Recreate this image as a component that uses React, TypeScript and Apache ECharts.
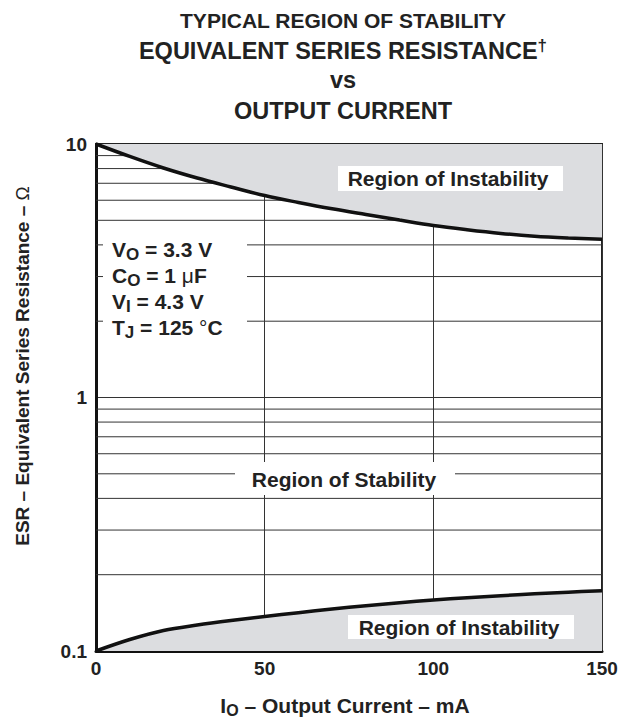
import React, { useEffect, useRef } from "react";
import * as echarts from "echarts";

// Output current (mA)
const currentMA = [0, 10, 20, 30, 40, 50, 60, 70, 80, 90, 100, 110, 120, 130, 140, 150];
// Upper stability boundary, ESR (ohm)
const upperESR = [10, 8.93, 8.04, 7.34, 6.77, 6.26, 5.88, 5.55, 5.27, 5.01, 4.77, 4.59, 4.44, 4.33, 4.26, 4.21];
// Lower stability boundary, ESR (ohm)
const lowerESR = [0.1, 0.111, 0.1205, 0.1266, 0.1319, 0.1368, 0.1416, 0.1464, 0.1509, 0.155, 0.1589, 0.1623, 0.1653, 0.1682, 0.1706, 0.1729];
// Minor horizontal grid values
const minorGrid = [0.2, 0.3, 0.4, 0.5, 0.6, 0.7, 0.8, 0.9, 2, 3, 4, 5, 6, 7, 8, 9];
// Axis tick labels
const yTickLabels = ["0.1", "1", "10"];
const xTickValues = [0, 50, 100, 150];
const xRange = [0, 150];

const FONT = "'Liberation Sans', Arial, Helvetica, sans-serif";
const INK = "#222";
const FILL = "#dcdde0";

export default function App() {
  const ref = useRef<HTMLDivElement>(null);

  useEffect(() => {
    if (!ref.current) return;
    const chart = echarts.init(ref.current, null, { renderer: "svg" });

    const gridL = 96, gridT = 144, gridW = 506, gridH = 507;

    const b = (fs: number) => ({ fontSize: fs, fontWeight: "bold", fontFamily: FONT, fill: INK });

    const subRich = (main: number, sub: number, lh: number) => ({
      m: { fontSize: main, fontWeight: "bold", fontFamily: FONT, lineHeight: lh, fill: INK },
      s: { fontSize: sub, fontWeight: "bold", fontFamily: FONT, lineHeight: sub, verticalAlign: "bottom", fill: INK },
      n: { fontSize: main, fontWeight: "normal", fontFamily: FONT, lineHeight: lh, fill: INK },
    });

    const paramLine = (y: number, parts: string) => ({
      type: "text",
      x: 112,
      y,
      z: 101,
      style: {
        text: parts,
        align: "left",
        verticalAlign: "middle",
        fill: INK,
        rich: subRich(21, 17, 28),
      },
    });

    const gridLineSeries = minorGrid.map((v) => ({
      type: "line",
      z: 1,
      silent: true,
      symbol: "none",
      data: xRange.map((x) => [x, v]),
      lineStyle: { color: "#333", width: 1 },
      emphasis: { disabled: true },
    }));

    const option: any = {
      animation: false,
      backgroundColor: "#fff",
      grid: {
        left: gridL,
        top: gridT,
        width: gridW,
        height: gridH,
        show: true,
        borderColor: INK,
        borderWidth: 2,
        backgroundColor: "transparent",
      },
      xAxis: {
        type: "value",
        min: 0,
        max: 150,
        interval: 50,
        axisLine: { show: true, onZero: false, lineStyle: { color: "#111", width: 3 } },
        axisTick: { show: false },
        axisLabel: {
          fontSize: 19,
          fontWeight: "bold",
          fontFamily: FONT,
          color: INK,
          margin: 8,
          formatter: (v: number) => (xTickValues.includes(v) ? String(v) : ""),
        },
        splitLine: { show: true, lineStyle: { color: "#333", width: 1 } },
      },
      yAxis: {
        type: "log",
        logBase: 10,
        min: 0.1,
        max: 10,
        axisLine: { show: true, onZero: false, lineStyle: { color: "#111", width: 3 } },
        axisTick: { show: false },
        axisLabel: {
          fontSize: 19,
          fontWeight: "bold",
          fontFamily: FONT,
          color: INK,
          margin: 9,
          formatter: (v: number) => (v >= 9.99 ? yTickLabels[2] : v >= 0.99 ? yTickLabels[1] : yTickLabels[0]),
        },
        splitLine: { show: true, lineStyle: { color: "#333", width: 1 } },
      },
      series: [
        ...gridLineSeries,
        {
          type: "line",
          z: 4,
          data: currentMA.map((x, i) => [x, upperESR[i]]),
          smooth: 0.35,
          symbol: "none",
          lineStyle: { color: "#111", width: 3.5 },
          areaStyle: { color: FILL, opacity: 1, origin: "end" },
        },
        {
          type: "line",
          z: 4,
          data: currentMA.map((x, i) => [x, lowerESR[i]]),
          smooth: 0.35,
          symbol: "none",
          lineStyle: { color: "#111", width: 3.5 },
          areaStyle: { color: FILL, opacity: 1, origin: "start" },
        },
      ],
      graphic: [
        // Title
        { type: "text", x: 343, y: 20.5, z: 100, style: { text: "TYPICAL REGION OF STABILITY", align: "center", verticalAlign: "middle", ...b(21) } },
        {
          type: "text", x: 343, y: 51, z: 100,
          style: {
            text: "{t|EQUIVALENT SERIES RESISTANCE}{d|†}",
            align: "center", verticalAlign: "middle",
            rich: {
              t: { fontSize: 23.5, fontWeight: "bold", fontFamily: FONT, fill: INK, lineHeight: 28 },
              d: { fontSize: 17, fontWeight: "bold", fontFamily: FONT, fill: INK, lineHeight: 17, verticalAlign: "top" },
            },
          },
        },
        { type: "text", x: 343, y: 80, z: 100, style: { text: "vs", align: "center", verticalAlign: "middle", ...b(23.5) } },
        { type: "text", x: 343, y: 111, z: 100, style: { text: "OUTPUT CURRENT", align: "center", verticalAlign: "middle", ...b(23.5) } },

        // Parameter box
        { type: "rect", z: 100, shape: { x: 103, y: 233, width: 144, height: 108 }, style: { fill: "#fff" } },
        paramLine(249, "{m|V}{s|O}{m| = 3.3 V}"),
        paramLine(275, "{m|C}{s|O}{m| = 1 }{n|μ}{m|F}"),
        paramLine(301, "{m|V}{s|I}{m| = 4.3 V}"),
        paramLine(327, "{m|T}{s|J}{m| = 125 }{n|°}{m|C}"),

        // Region labels
        { type: "rect", z: 100, shape: { x: 338, y: 166, width: 225, height: 25 }, style: { fill: "#fff" } },
        { type: "text", x: 448, y: 178.5, z: 101, style: { text: "Region of Instability", align: "center", verticalAlign: "middle", ...b(21) } },
        { type: "rect", z: 100, shape: { x: 235, y: 462, width: 220, height: 33 }, style: { fill: "#fff" } },
        { type: "text", x: 344, y: 479, z: 101, style: { text: "Region of Stability", align: "center", verticalAlign: "middle", ...b(21) } },
        { type: "rect", z: 100, shape: { x: 348, y: 615, width: 226, height: 24 }, style: { fill: "#fff" } },
        { type: "text", x: 459, y: 627, z: 101, style: { text: "Region of Instability", align: "center", verticalAlign: "middle", ...b(21) } },

        // Axis titles
        {
          type: "text", x: 345, y: 705, z: 100,
          style: {
            text: "{m|I}{s|O}{m| – Output Current – mA}",
            align: "center", verticalAlign: "middle",
            rich: subRich(21, 16, 27),
          },
        },
        {
          type: "text", x: 22, y: 366, z: 100, rotation: Math.PI / 2,
          style: {
            text: "{m|ESR – Equivalent Series Resistance – }{n|Ω}",
            align: "center", verticalAlign: "middle",
            rich: {
              m: { fontSize: 19, fontWeight: "bold", fontFamily: FONT, fill: INK, lineHeight: 24 },
              n: { fontSize: 19, fontWeight: "normal", fontFamily: FONT, fill: INK, lineHeight: 24 },
            },
          },
        },
      ],
    };

    chart.setOption(option);
    return () => chart.dispose();
  }, []);

  return (
    <div
      ref={ref}
      style={{ position: "absolute", left: 0, top: 0, width: 624, height: 718, background: "#fff" }}
    />
  );
}
